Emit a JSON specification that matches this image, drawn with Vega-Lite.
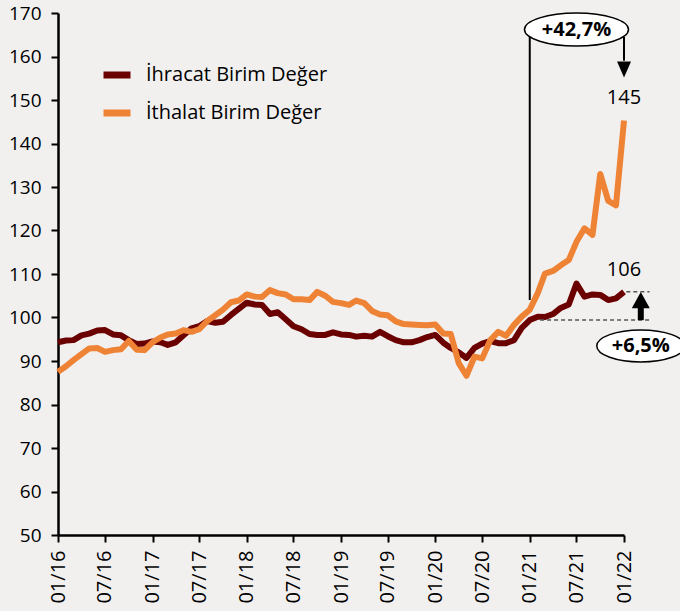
{
  "$schema": "https://vega.github.io/schema/vega-lite/v6.json",
  "autosize": "none",
  "width": 566,
  "height": 522,
  "padding": {"left": 58, "top": 13, "right": 56, "bottom": 76},
  "background": "#f2f0ef",
  "config": {
    "view": {"stroke": null},
    "font": "Open Sans",
    "axis": {"labelFont": "Open Sans", "labelFontSize": 19, "labelColor": "#000", "domainColor": "#000", "domainWidth": 2.5, "tickColor": "#000", "tickWidth": 2, "tickSize": 7, "grid": false, "title": null}
  },
  "datasets": {
    "main": [
      {"d":"2016-01-01","ihr":94.3,"ith":87.5},{"d":"2016-02-01","ihr":94.7,"ith":88.8},{"d":"2016-03-01","ihr":94.8,"ith":90.2},{"d":"2016-04-01","ihr":95.9,"ith":91.6},{"d":"2016-05-01","ihr":96.3,"ith":92.9},{"d":"2016-06-01","ihr":97.0,"ith":93.0},{"d":"2016-07-01","ihr":97.1,"ith":92.1},{"d":"2016-08-01","ihr":96.1,"ith":92.5},{"d":"2016-09-01","ihr":95.9,"ith":92.7},{"d":"2016-10-01","ihr":94.8,"ith":94.6},{"d":"2016-11-01","ihr":93.9,"ith":92.6},{"d":"2016-12-01","ihr":94.0,"ith":92.5},
      {"d":"2017-01-01","ihr":94.5,"ith":94.3},{"d":"2017-02-01","ihr":94.3,"ith":95.4},{"d":"2017-03-01","ihr":93.7,"ith":96.1},{"d":"2017-04-01","ihr":94.3,"ith":96.3},{"d":"2017-05-01","ihr":95.9,"ith":97.1},{"d":"2017-06-01","ihr":97.5,"ith":96.7},{"d":"2017-07-01","ihr":98.0,"ith":97.3},{"d":"2017-08-01","ihr":99.2,"ith":99.2},{"d":"2017-09-01","ihr":98.8,"ith":100.5},{"d":"2017-10-01","ihr":99.0,"ith":101.8},{"d":"2017-11-01","ihr":100.6,"ith":103.5},{"d":"2017-12-01","ihr":102.0,"ith":103.9},
      {"d":"2018-01-01","ihr":103.4,"ith":105.3},{"d":"2018-02-01","ihr":103.0,"ith":104.8},{"d":"2018-03-01","ihr":102.9,"ith":104.7},{"d":"2018-04-01","ihr":100.8,"ith":106.3},{"d":"2018-05-01","ihr":101.2,"ith":105.6},{"d":"2018-06-01","ihr":99.6,"ith":105.3},{"d":"2018-07-01","ihr":98.0,"ith":104.2},{"d":"2018-08-01","ihr":97.3,"ith":104.2},{"d":"2018-09-01","ihr":96.2,"ith":104.0},{"d":"2018-10-01","ihr":96.0,"ith":105.9},{"d":"2018-11-01","ihr":96.0,"ith":105.0},{"d":"2018-12-01","ihr":96.6,"ith":103.6},
      {"d":"2019-01-01","ihr":96.1,"ith":103.3},{"d":"2019-02-01","ihr":96.0,"ith":102.9},{"d":"2019-03-01","ihr":95.6,"ith":103.9},{"d":"2019-04-01","ihr":95.8,"ith":103.3},{"d":"2019-05-01","ihr":95.6,"ith":101.5},{"d":"2019-06-01","ihr":96.7,"ith":100.7},{"d":"2019-07-01","ihr":95.7,"ith":100.5},{"d":"2019-08-01","ihr":94.8,"ith":99.1},{"d":"2019-09-01","ihr":94.3,"ith":98.5},{"d":"2019-10-01","ihr":94.3,"ith":98.4},{"d":"2019-11-01","ihr":94.8,"ith":98.3},{"d":"2019-12-01","ihr":95.5,"ith":98.2},
      {"d":"2020-01-01","ihr":96.0,"ith":98.4},{"d":"2020-02-01","ihr":94.2,"ith":96.3},{"d":"2020-03-01","ihr":93.0,"ith":96.2},{"d":"2020-04-01","ihr":92.0,"ith":89.5},{"d":"2020-05-01","ihr":90.7,"ith":86.6},{"d":"2020-06-01","ihr":93.0,"ith":91.0},{"d":"2020-07-01","ihr":94.0,"ith":90.6},{"d":"2020-08-01","ihr":94.6,"ith":94.8},{"d":"2020-09-01","ihr":94.1,"ith":96.7},{"d":"2020-10-01","ihr":94.1,"ith":95.8},{"d":"2020-11-01","ihr":94.8,"ith":98.3},{"d":"2020-12-01","ihr":97.6,"ith":100.2},
      {"d":"2021-01-01","ihr":99.4,"ith":101.8},{"d":"2021-02-01","ihr":100.2,"ith":105.6},{"d":"2021-03-01","ihr":100.1,"ith":110.1},{"d":"2021-04-01","ihr":100.8,"ith":110.7},{"d":"2021-05-01","ihr":102.2,"ith":112.0},{"d":"2021-06-01","ihr":103.0,"ith":113.2},{"d":"2021-07-01","ihr":107.8,"ith":117.4},{"d":"2021-08-01","ihr":104.8,"ith":120.5},{"d":"2021-09-01","ihr":105.3,"ith":119.0},{"d":"2021-10-01","ihr":105.2,"ith":133.0},{"d":"2021-11-01","ihr":104.0,"ith":126.8},{"d":"2021-12-01","ihr":104.4,"ith":125.8},
      {"d":"2022-01-01","ihr":105.9,"ith":145.3}
    ]
  },
  "layer": [
    {
      "data": {"name": "main"},
      "transform": [{"fold": ["ihr", "ith"], "as": ["series", "value"]}],
      "mark": {"type": "line", "strokeWidth": 6, "strokeJoin": "round"},
      "encoding": {
        "x": {"field": "d", "type": "temporal",
          "scale": {"type": "utc", "nice": false, "domain": [{"year": 2016, "month": 1, "date": 1, "utc": true}, {"year": 2022, "month": 1, "date": 1, "utc": true}]},
          "axis": {"labelExpr": "utcFormat(datum.value, '%m/%y')", "labelAngle": 270, "labelPadding": 8, "labelFontSize": 20,
            "values": [{"year": 2016, "month": 1, "date": 1, "utc": true},{"year": 2016, "month": 7, "date": 1, "utc": true},{"year": 2017, "month": 1, "date": 1, "utc": true},{"year": 2017, "month": 7, "date": 1, "utc": true},{"year": 2018, "month": 1, "date": 1, "utc": true},{"year": 2018, "month": 7, "date": 1, "utc": true},{"year": 2019, "month": 1, "date": 1, "utc": true},{"year": 2019, "month": 7, "date": 1, "utc": true},{"year": 2020, "month": 1, "date": 1, "utc": true},{"year": 2020, "month": 7, "date": 1, "utc": true},{"year": 2021, "month": 1, "date": 1, "utc": true},{"year": 2021, "month": 7, "date": 1, "utc": true},{"year": 2022, "month": 1, "date": 1, "utc": true}]}},
        "y": {"field": "value", "type": "quantitative",
          "scale": {"domain": [50, 170], "nice": false, "zero": false},
          "axis": {"values": [50,60,70,80,90,100,110,120,130,140,150,160,170], "labelPadding": 10}},
        "color": {"field": "series", "type": "nominal",
          "scale": {"domain": ["ihr", "ith"], "range": ["#6b0000", "#ef8335"]},
          "legend": {"orient": "none", "legendX": 42, "legendY": 45, "title": null, "padding": 0,
            "symbolType": "stroke", "symbolStrokeWidth": 7, "symbolSize": 729, "labelFontSize": 20, "labelFont": "Open Sans", "labelColor": "#000", "labelOffset": 12, "labelLimit": 400, "rowPadding": 7,
            "labelExpr": "datum.label == 'ihr' ? 'İhracat Birim Değer' : 'İthalat Birim Değer'"}}
      }
    },
    {
      "data": {"values": [
        {"d": "2021-01-01", "y1": 104, "y2": 166},
        {"d": "2022-01-01", "y1": 159, "y2": 164.5}
      ]},
      "mark": {"type": "rule", "color": "#000", "strokeWidth": 2},
      "encoding": {
        "x": {"field": "d", "type": "temporal"},
        "y": {"field": "y1", "type": "quantitative"},
        "y2": {"field": "y2"}
      }
    },
    {
      "data": {"values": [
        {"d1": "2021-02-10", "d2": "2022-04-10", "y": 99.4},
        {"d1": "2022-01-10", "d2": "2022-04-10", "y": 105.9}
      ]},
      "mark": {"type": "rule", "color": "#555", "strokeWidth": 1.5, "strokeDash": [4, 3]},
      "encoding": {
        "x": {"field": "d1", "type": "temporal"},
        "x2": {"field": "d2"},
        "y": {"field": "y", "type": "quantitative"}
      }
    },
    {
      "data": {"values": [{"d": "2022-03-07", "y1": 99.4, "y2": 102.8}]},
      "mark": {"type": "rule", "color": "#000", "strokeWidth": 6},
      "encoding": {
        "x": {"field": "d", "type": "temporal"},
        "y": {"field": "y1", "type": "quantitative"},
        "y2": {"field": "y2"}
      }
    },
    {
      "data": {"values": [{"d": "2022-01-01", "y": 157.0}]},
      "mark": {"type": "point", "shape": "M-0.875,-1L0.875,-1L0,1Z", "size": 256, "filled": true, "fill": "#000", "stroke": null, "opacity": 1},
      "encoding": {
        "x": {"field": "d", "type": "temporal"},
        "y": {"field": "y", "type": "quantitative"}
      }
    },
    {
      "data": {"values": [{"d": "2022-03-07", "y": 104.0}]},
      "mark": {"type": "point", "shape": "M-1,0.9L1,0.9L0,-0.9Z", "size": 324, "filled": true, "fill": "#000", "stroke": null, "opacity": 1},
      "encoding": {
        "x": {"field": "d", "type": "temporal"},
        "y": {"field": "y", "type": "quantitative"}
      }
    },
    {
      "data": {"values": [{"d": "2021-07-01", "y": 166.2}]},
      "mark": {"type": "point", "shape": "M-1,0A1,0.317,0,1,1,1,0A1,0.317,0,1,1,-1,0Z", "size": 10816, "filled": true, "fill": "#fff", "stroke": "#000", "strokeWidth": 1.5, "opacity": 1},
      "encoding": {
        "x": {"field": "d", "type": "temporal"},
        "y": {"field": "y", "type": "quantitative"}
      }
    },
    {
      "data": {"values": [{"d": "2022-03-07", "y": 93.45}]},
      "mark": {"type": "point", "shape": "M-1,0A1,0.364,0,1,1,1,0A1,0.364,0,1,1,-1,0Z", "size": 7744, "filled": true, "fill": "#fff", "stroke": "#000", "strokeWidth": 1.5, "opacity": 1},
      "encoding": {
        "x": {"field": "d", "type": "temporal"},
        "y": {"field": "y", "type": "quantitative"}
      }
    },
    {
      "data": {"values": [
        {"d": "2021-07-01", "y": 166.2, "t": "+42,7%"},
        {"d": "2022-03-07", "y": 93.45, "t": "+6,5%"}
      ]},
      "mark": {"type": "text", "font": "Open Sans", "fontSize": 20, "fontWeight": "bold", "color": "#000", "align": "center", "baseline": "middle"},
      "encoding": {
        "x": {"field": "d", "type": "temporal"},
        "y": {"field": "y", "type": "quantitative"},
        "text": {"field": "t"}
      }
    },
    {
      "data": {"values": [
        {"d": "2022-01-01", "y": 150.5, "t": "145"},
        {"d": "2022-01-01", "y": 111.0, "t": "106"}
      ]},
      "mark": {"type": "text", "font": "Open Sans", "fontSize": 20, "color": "#000", "align": "center", "baseline": "middle"},
      "encoding": {
        "x": {"field": "d", "type": "temporal"},
        "y": {"field": "y", "type": "quantitative"},
        "text": {"field": "t"}
      }
    }
  ]
}
